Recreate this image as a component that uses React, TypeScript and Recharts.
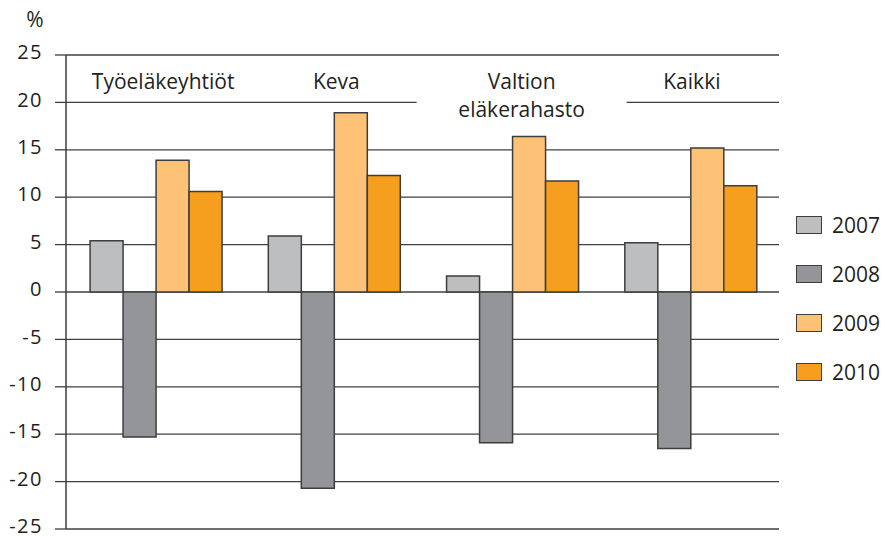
import { BarChart, Bar, XAxis, YAxis, CartesianGrid, Legend } from 'recharts';

const categories = ['Työeläkeyhtiöt', 'Keva', 'Valtion\neläkerahasto', 'Kaikki'];
const years = ['2007', '2008', '2009', '2010'];
const v2007 = [5.4, 5.9, 1.7, 5.2];
const v2008 = [-15.3, -20.7, -15.9, -16.5];
const v2009 = [13.9, 18.9, 16.4, 15.2];
const v2010 = [10.6, 12.3, 11.7, 11.2];
const yTicks = [-25, -20, -15, -10, -5, 0, 5, 10, 15, 20, 25];

const COLORS = ['#bcbec0', '#939598', '#fec276', '#f69e1d'];
const INK = '#231f20';
const LINE = '#3d3d3d';
const FONT = '"Open Sans", "Noto Sans", sans-serif';

const data = categories.map((name, i) => ({
  name,
  '2007': v2007[i],
  '2008': v2008[i],
  '2009': v2009[i],
  '2010': v2010[i],
}));

// small nudges so the group titles sit like in the original
const LABEL_DX = [8, 3, 10, 2];
const PLOT_TOP = 55;

function CategoryTick(props: any) {
  const { x, payload, index } = props;
  const lines: string[] = String(payload.value).split('\n');
  const cx = x + (LABEL_DX[index] ?? 0);
  return (
    <g>
      {/* white box so the two-line title hides the gridline behind it */}
      {lines.length > 1 && (
        <rect x={cx - 105} y={PLOT_TOP + 6} width={210} height={68} fill="#fff" />
      )}
      <text textAnchor="middle" fontFamily={FONT} fontSize={21} fill={INK}>
        {lines.map((l, k) => (
          <tspan key={k} x={cx} y={PLOT_TOP + 34 + k * 28}>
            {l}
          </tspan>
        ))}
      </text>
    </g>
  );
}

function PercentLabel(props: any) {
  const { viewBox } = props;
  return (
    <text x={viewBox.x + 35} y={viewBox.y - 28} textAnchor="middle" fontFamily={FONT} fontSize={21} fill={INK}>
      %
    </text>
  );
}

function LegendContent(props: any) {
  const { payload } = props;
  return (
    <div style={{ display: 'flex', flexDirection: 'column' }}>
      {(payload || []).map((p: any) => (
        <div key={p.value} style={{ display: 'flex', alignItems: 'center', height: 49 }}>
          <span
            style={{
              display: 'inline-block',
              width: 26,
              height: 18,
              boxSizing: 'border-box',
              background: p.color,
              border: `1.5px solid ${LINE}`,
            }}
          />
          <span style={{ marginLeft: 10, fontFamily: FONT, fontSize: 21, color: INK }}>{p.value}</span>
        </div>
      ))}
    </div>
  );
}

export default function App() {
  return (
    <div style={{ position: 'absolute', left: 0, top: 0, background: '#fff' }}>
      <BarChart
        width={885}
        height={536}
        data={data}
        margin={{ top: PLOT_TOP - 20, right: 17, bottom: 7, left: 0 }}
        barCategoryGap="13.5%"
        barGap={0}
      >
        <CartesianGrid vertical={false} stroke="#3f3f3f" strokeWidth={1.3} yAxisId="left" />
        <XAxis
          dataKey="name"
          orientation="top"
          height={20}
          axisLine={false}
          tickLine={false}
          interval={0}
          tick={<CategoryTick />}
        />
        <YAxis
          yAxisId="left"
          domain={[-25, 25]}
          ticks={yTicks}
          interval={0}
          width={66}
          tickSize={11}
          tickMargin={12}
          axisLine={{ stroke: LINE, strokeWidth: 1.5 }}
          tickLine={{ stroke: LINE, strokeWidth: 1.3 }}
          tick={{ fill: INK, fontSize: 20, fontFamily: FONT, letterSpacing: 1.5, dy: -3 }}
          label={<PercentLabel />}
        />
        <YAxis
          yAxisId="right"
          orientation="right"
          domain={[-25, 25]}
          width={0}
          tick={false}
          tickLine={false}
          axisLine={{ stroke: LINE, strokeWidth: 1.5 }}
        />
        {years.map((yr, i) => (
          <Bar
            key={yr}
            yAxisId="left"
            dataKey={yr}
            name={yr}
            fill={COLORS[i]}
            stroke={LINE}
            strokeWidth={1.5}
            isAnimationActive={false}
          />
        ))}
        <Legend
          layout="vertical"
          align="right"
          verticalAlign="top"
          width={89}
          wrapperStyle={{ left: 796, top: 200 }}
          content={<LegendContent />}
        />
      </BarChart>
    </div>
  );
}
